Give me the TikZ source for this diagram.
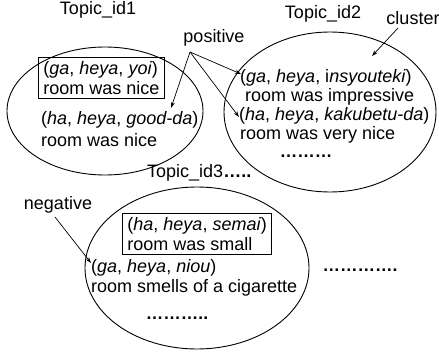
\documentclass[tikz,border=0pt]{standalone}
\usepackage{fontspec}
\setmainfont{Liberation Sans}
\usetikzlibrary{arrows.meta}
\begin{document}
\begin{tikzpicture}[x=1pt,y=-1pt,
  every node/.style={font=\fontsize{18}{19.5}\selectfont, inner sep=0pt},
  txt/.style={anchor=west},
  boxed/.style={draw, line width=0.9pt, inner xsep=5pt, inner ysep=4pt, align=left, anchor=west},
  blob/.style={draw, line width=0.9pt},
  pointer/.style={-{Stealth[length=6pt,width=4pt]}, line width=0.7pt},
  dotted text/.style={font=\fontsize{17.5}{19.5}\selectfont\bfseries}]
\useasboundingbox (0,0) rectangle (439,356);
% ellipses
\draw[blob] (105,111) ellipse [x radius=98, y radius=64];
\draw[blob] (330,112) ellipse [x radius=106, y radius=80];
\draw[blob] (197,268) ellipse [x radius=112, y radius=81];
% titles
\node (t1) at (98,10) {Topic\_id1};
\node (t2) at (323,14) {Topic\_id2};
\node[anchor=west] (t3) at (147,173) {Topic\_id3\textbf{…..}};
\node (cl) at (413,18) {cluster};
\node (pos) at (214,38) {positive};
\node (neg) at (58,205) {negative};
% ellipse 1
\node[boxed] (b1) at (38,78) {(\textit{ga}, \textit{heya}, \textit{yoi})\\room was nice};
\node[txt] (e1a) at (41,120) {(\textit{ha}, \textit{heya}, \textit{good-da})};
\node[txt] (e1b) at (41,140) {room was nice};
% ellipse 2
\node[txt] (e2a) at (240,78) {(\textit{ga}, \textit{heya}, i\textit{nsyouteki})};
\node[txt] (e2b) at (245,97) {room was impressive};
\node[txt] (e2c) at (239,116) {(\textit{ha}, \textit{heya}, \textit{kakubetu-da})};
\node[txt] (e2d) at (240,135) {room was very nice};
\node[dotted text] (e2e) at (306,156) {………};
% ellipse 3
\node[boxed] (b3) at (122,234) {(\textit{ha}, \textit{heya}, \textit{semai})\\room was small};
\node[txt] (e3a) at (91,268) {(\textit{ga}, \textit{heya}, \textit{niou})};
\node[txt] (e3b) at (91,288) {room smells of a cigarette};
\node[dotted text] (e3c) at (177,318) {………..};
\node[dotted text] (rd) at (360,270) {………….};
% arrows
\coordinate (ps) at (190,52);
\coordinate (p1) at (171,108);
\coordinate (p2) at (241,74);
\coordinate (p3) at (239,117);
\draw[pointer] (ps) -- (p1);
\draw[pointer] (ps) -- (p2);
\draw[pointer] (ps) -- (p3);
\coordinate (cs) at (398,28);
\coordinate (ce) at (372,56);
\draw[pointer] (cs) -- (ce);
\coordinate (ns) at (55,217);
\coordinate (ne) at (91,263);
\draw[pointer] (ns) -- (ne);
\end{tikzpicture}
\end{document}
